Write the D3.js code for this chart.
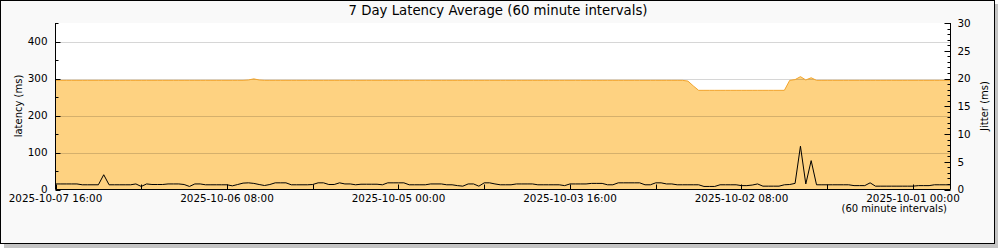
<!DOCTYPE html>
<html>
<head>
<meta charset="utf-8">
<script src="https://cdn.jsdelivr.net/npm/d3@7"></script>
<style>
body { margin: 0; background: #fff; }
text { font-family: "DejaVu Sans", sans-serif; font-size: 10px; fill: #000; }
text.title { font-size: 13.3px; }
text.xlab { font-size: 10.4px; }
</style>
</head>
<body>
<div id="chart"></div>
<script>
// hourly samples, newest first (2025-10-07 16:00 backwards)
var startTime = new Date(2025, 9, 7, 16, 0);

var latency = [
  295,295,295,295,295,295,295,295,295,295,
  295,295,295,295,295,295,295,295,295,295,
  295,295,295,295,295,295,295,295,295,295,
  295,295,295,295,295,295,296,299,296,295,
  295,295,295,295,295,295,295,295,295,295,
  295,295,295,295,295,295,295,295,295,295,
  295,295,295,295,295,295,295,295,295,295,
  295,295,295,295,295,295,295,295,295,295,
  295,295,295,295,295,295,295,295,295,295,
  295,295,295,295,295,295,295,295,295,295,
  295,295,295,295,295,295,295,295,295,295,
  295,295,295,295,295,295,295,295,293,280,
  268,268,268,268,268,268,268,268,268,268,
  268,268,268,268,268,268,268,295,297,305,
  296,302,295,295,295,295,295,295,295,295,
  295,295,295,295,295,295,295,295,295,295,
  295,295,295,295,295,295,295,295
];

var jitter = [
  1.0,1.0,1.0,1.0,1.0,0.85,0.85,0.85,0.85,2.66,
  0.85,0.85,0.85,0.85,0.85,1.0,0.55,1.0,0.9,0.9,
  0.9,1.0,1.0,1.0,0.9,0.55,1.0,1.0,0.85,0.85,
  0.85,0.85,0.85,0.66,0.9,1.15,1.2,1.1,0.9,0.72,
  0.9,1.2,1.2,1.2,0.85,0.85,0.85,0.85,0.9,1.2,
  1.2,0.9,0.9,1.2,1.0,1.0,0.85,0.95,0.95,0.95,
  0.95,0.85,1.2,1.2,1.2,1.2,0.85,0.85,0.85,0.85,
  1.0,1.0,1.0,0.85,0.85,0.7,0.6,1.0,1.0,0.6,
  1.2,1.2,1.0,0.85,0.85,0.85,1.0,1.0,1.0,1.0,
  0.85,0.85,0.85,0.85,0.85,0.7,1.0,1.0,1.0,1.0,
  1.1,1.1,1.1,0.85,0.85,1.2,1.2,1.2,1.2,1.2,
  0.85,0.85,1.2,1.2,1.0,1.0,0.85,0.85,0.85,0.85,
  0.85,0.55,0.55,0.55,0.85,0.85,0.85,0.85,0.7,0.7,
  0.8,1.0,0.6,0.6,0.6,0.6,0.85,0.9,1.1,7.8,
  1.0,5.2,0.85,0.85,0.85,0.85,0.85,0.85,0.85,0.7,
  0.7,0.7,1.2,0.6,0.6,0.6,0.6,0.6,0.6,0.6,
  0.6,0.7,0.7,0.7,0.85,0.85,0.85,0.85
];

var xTickLabels = ["2025-10-07 16:00", "2025-10-06 08:00", "2025-10-05 00:00",
                   "2025-10-03 16:00", "2025-10-02 08:00", "2025-10-01 00:00"];
var leftTicks = [0, 100, 200, 300, 400];
var rightTicks = [0, 5, 10, 15, 20, 25, 30];

(function() {
var W = 1000, H = 250;
var pLeft = 55.5, pRight = 950.5, pTop = 23, pBottom = 189.5;

var parseT = d3.timeParse("%Y-%m-%d %H:%M");
var times = latency.map(function(d, i) { return d3.timeHour.offset(startTime, -i); });

var svg = d3.select("#chart").append("svg")
  .attr("width", W).attr("height", H);

// frame + shadow
svg.append("rect").attr("x", 4).attr("y", 4).attr("width", 994).attr("height", 244)
  .attr("fill", "#c4c4c4");
svg.append("rect").attr("x", 0.5).attr("y", 0.5).attr("width", 994).attr("height", 243)
  .attr("fill", "#f9f9f9").attr("stroke", "#000");

// scales
var x = d3.scaleTime().domain([times[0], times[times.length - 1]]).range([pLeft, pRight]);
var yL = d3.scaleLinear().domain([0, 450]).range([pBottom, pTop]);
var yR = d3.scaleLinear().domain([0, 30]).range([pBottom, pTop]);

svg.append("rect").attr("x", pLeft).attr("y", pTop)
  .attr("width", pRight - pLeft).attr("height", pBottom - pTop).attr("fill", "#fff");

// latency area
var area = d3.area()
  .x(function(d, i) { return x(times[i]); })
  .y0(yL(0))
  .y1(function(d) { return yL(d); });
var line = d3.line()
  .x(function(d, i) { return x(times[i]); })
  .y(function(d) { return yL(d); });

svg.append("path").datum(latency).attr("d", area).attr("fill", "#fed281");

// grid
svg.selectAll(".grid").data(leftTicks.slice(1)).enter().append("line")
  .attr("x1", pLeft).attr("x2", pRight)
  .attr("y1", function(d) { return Math.round(yL(d)) + 0.5; })
  .attr("y2", function(d) { return Math.round(yL(d)) + 0.5; })
  .attr("stroke", "rgba(0,0,0,0.16)");

svg.append("path").datum(latency).attr("d", line)
  .attr("fill", "none").attr("stroke", "#f2a42c").attr("stroke-width", 1);

// jitter line
var jline = d3.line()
  .x(function(d, i) { return x(times[i]); })
  .y(function(d) { return yR(d); });
svg.append("path").datum(jitter).attr("d", jline)
  .attr("fill", "none").attr("stroke", "#000").attr("stroke-width", 1);

// left axis
var yAxisL = d3.axisLeft(yL).tickValues(leftTicks).tickSize(0).tickPadding(8);
var gL = svg.append("g").attr("transform", "translate(" + pLeft + ",0)").call(yAxisL);
gL.select(".domain").remove();
gL.selectAll("text").style("font-size", "10.4px").style("font-family", "DejaVu Sans");
svg.append("line").attr("x1", pLeft).attr("x2", pLeft).attr("y1", pTop).attr("y2", pBottom)
  .attr("stroke", "#000");
d3.range(0, 451, 50).forEach(function(v) {
  var yy = Math.round(yL(v)) + 0.5;
  svg.append("line").attr("x1", pLeft).attr("x2", pLeft + (v % 100 === 0 ? 5 : 3))
    .attr("y1", yy).attr("y2", yy).attr("stroke", "#000");
});

// right axis
var yAxisR = d3.axisRight(yR).tickValues(rightTicks).tickSize(0).tickPadding(7);
var gR = svg.append("g").attr("transform", "translate(" + pRight + ",0)").call(yAxisR);
gR.select(".domain").remove();
gR.selectAll("text").style("font-size", "10.4px").style("font-family", "DejaVu Sans");
svg.append("line").attr("x1", pRight).attr("x2", pRight).attr("y1", pTop).attr("y2", pBottom)
  .attr("stroke", "#000");
d3.range(0, 31, 1).forEach(function(v) {
  var yy = Math.round(yR(v)) + 0.5;
  svg.append("line").attr("x1", pRight).attr("x2", pRight - (v % 5 === 0 ? 6 : 3))
    .attr("y1", yy).attr("y2", yy).attr("stroke", "#000");
});

// bottom axis
svg.append("line").attr("x1", pLeft).attr("x2", pRight).attr("y1", pBottom).attr("y2", pBottom)
  .attr("stroke", "#000");
var labelTimes = xTickLabels.map(parseT);
var tickTimes = [];
labelTimes.forEach(function(t) {
  tickTimes.push(t);
  var m = d3.timeHour.offset(t, -16);
  if (m >= times[times.length - 1]) tickTimes.push(m);
});
svg.selectAll(".xtick").data(tickTimes).enter().append("line")
  .attr("x1", function(d) { return Math.round(x(d)) + 0.5; })
  .attr("x2", function(d) { return Math.round(x(d)) + 0.5; })
  .attr("y1", pBottom).attr("y2", pBottom - 5)
  .attr("stroke", "#000");
svg.selectAll(".xlab").data(xTickLabels).enter().append("text")
  .attr("class", "xlab")
  .attr("x", function(d) { return x(parseT(d)); })
  .attr("y", 201.5)
  .attr("text-anchor", "middle")
  .text(function(d) { return d; });
svg.append("text").attr("x", 947).attr("y", 212).attr("text-anchor", "end")
  .text("(60 minute intervals)");

// titles
svg.append("text").attr("class", "title").attr("x", 498).attr("y", 15)
  .attr("text-anchor", "middle")
  .text("7 Day Latency Average (60 minute intervals)");
svg.append("text").attr("transform", "translate(22,106) rotate(-90)")
  .attr("text-anchor", "middle").text("latency (ms)");
svg.append("text").attr("transform", "translate(988,106) rotate(-90)")
  .attr("text-anchor", "middle").text("Jitter (ms)");
})();
</script>
</body>
</html>
